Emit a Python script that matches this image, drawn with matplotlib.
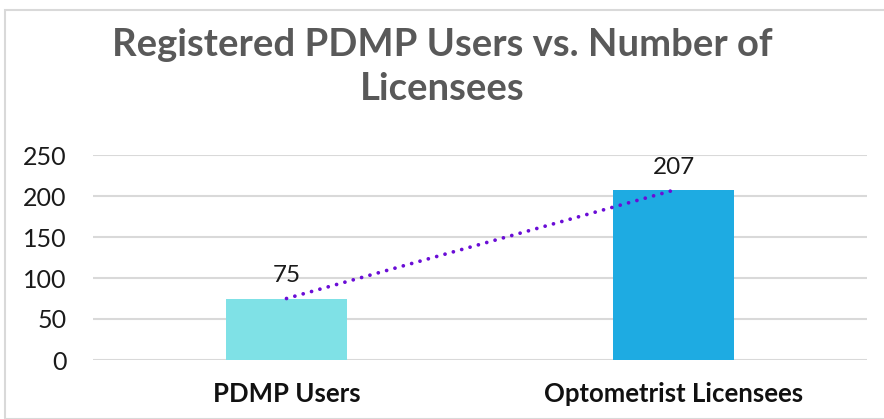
import matplotlib
matplotlib.use("Agg")
import matplotlib.pyplot as plt
from matplotlib.patches import Rectangle

categories = ["PDMP Users", "Optometrist Licensees"]
values = [75, 207]
bar_colors = ["#7FE1E6", "#1EABE2"]
yticks = [0, 50, 100, 150, 200, 250]
title = "Registered PDMP Users vs. Number of\nLicensees"

plt.rcParams['font.family'] = ['Lato', 'DejaVu Sans']

fig = plt.figure(figsize=(8.84, 4.19), dpi=100)
ax = fig.add_axes([93/884, 1-360/419, (867-93)/884, (360-155)/419])

x = list(range(len(categories)))
ax.bar(x, values, width=0.315, color=bar_colors, zorder=2)
ax.plot(x, values, linestyle=(0, (0.01, 2.3)), color="#6A0DD6", linewidth=2.7,
        dash_capstyle="round", zorder=3)
for xi, v in zip(x, values):
    ax.text(xi, v + 15, str(v), ha="center", va="bottom", fontsize=17.5, color="#1a1a1a", zorder=4)

ax.set_xlim(-0.5, 1.5)
ax.set_ylim(0, 250)
ax.set_yticks(yticks)
ax.set_yticklabels([str(t) for t in yticks], fontsize=18, color="#1a1a1a")
ax.set_xticks(x)
ax.set_xticklabels(categories, fontsize=18.5, fontweight="bold", color="#111111")
ax.tick_params(axis="both", length=0)
ax.tick_params(axis="y", pad=19)
ax.tick_params(axis="x", pad=16)
ax.yaxis.grid(True, color="#D9D9D9", linewidth=1.5, zorder=0)
ax.set_axisbelow(True)
for s in ax.spines.values():
    s.set_visible(False)

fig.text(0.5, 1-67/419, title, ha="center", va="center", fontsize=27.5,
         fontweight="bold", color="#595959", linespacing=1.33)

fig.patches.append(Rectangle((5/884, 0), 1, 1-10/419, transform=fig.transFigure,
                             fill=False, edgecolor="#D9D9D9", linewidth=1.5))

fig.savefig("out.png", dpi=100)
